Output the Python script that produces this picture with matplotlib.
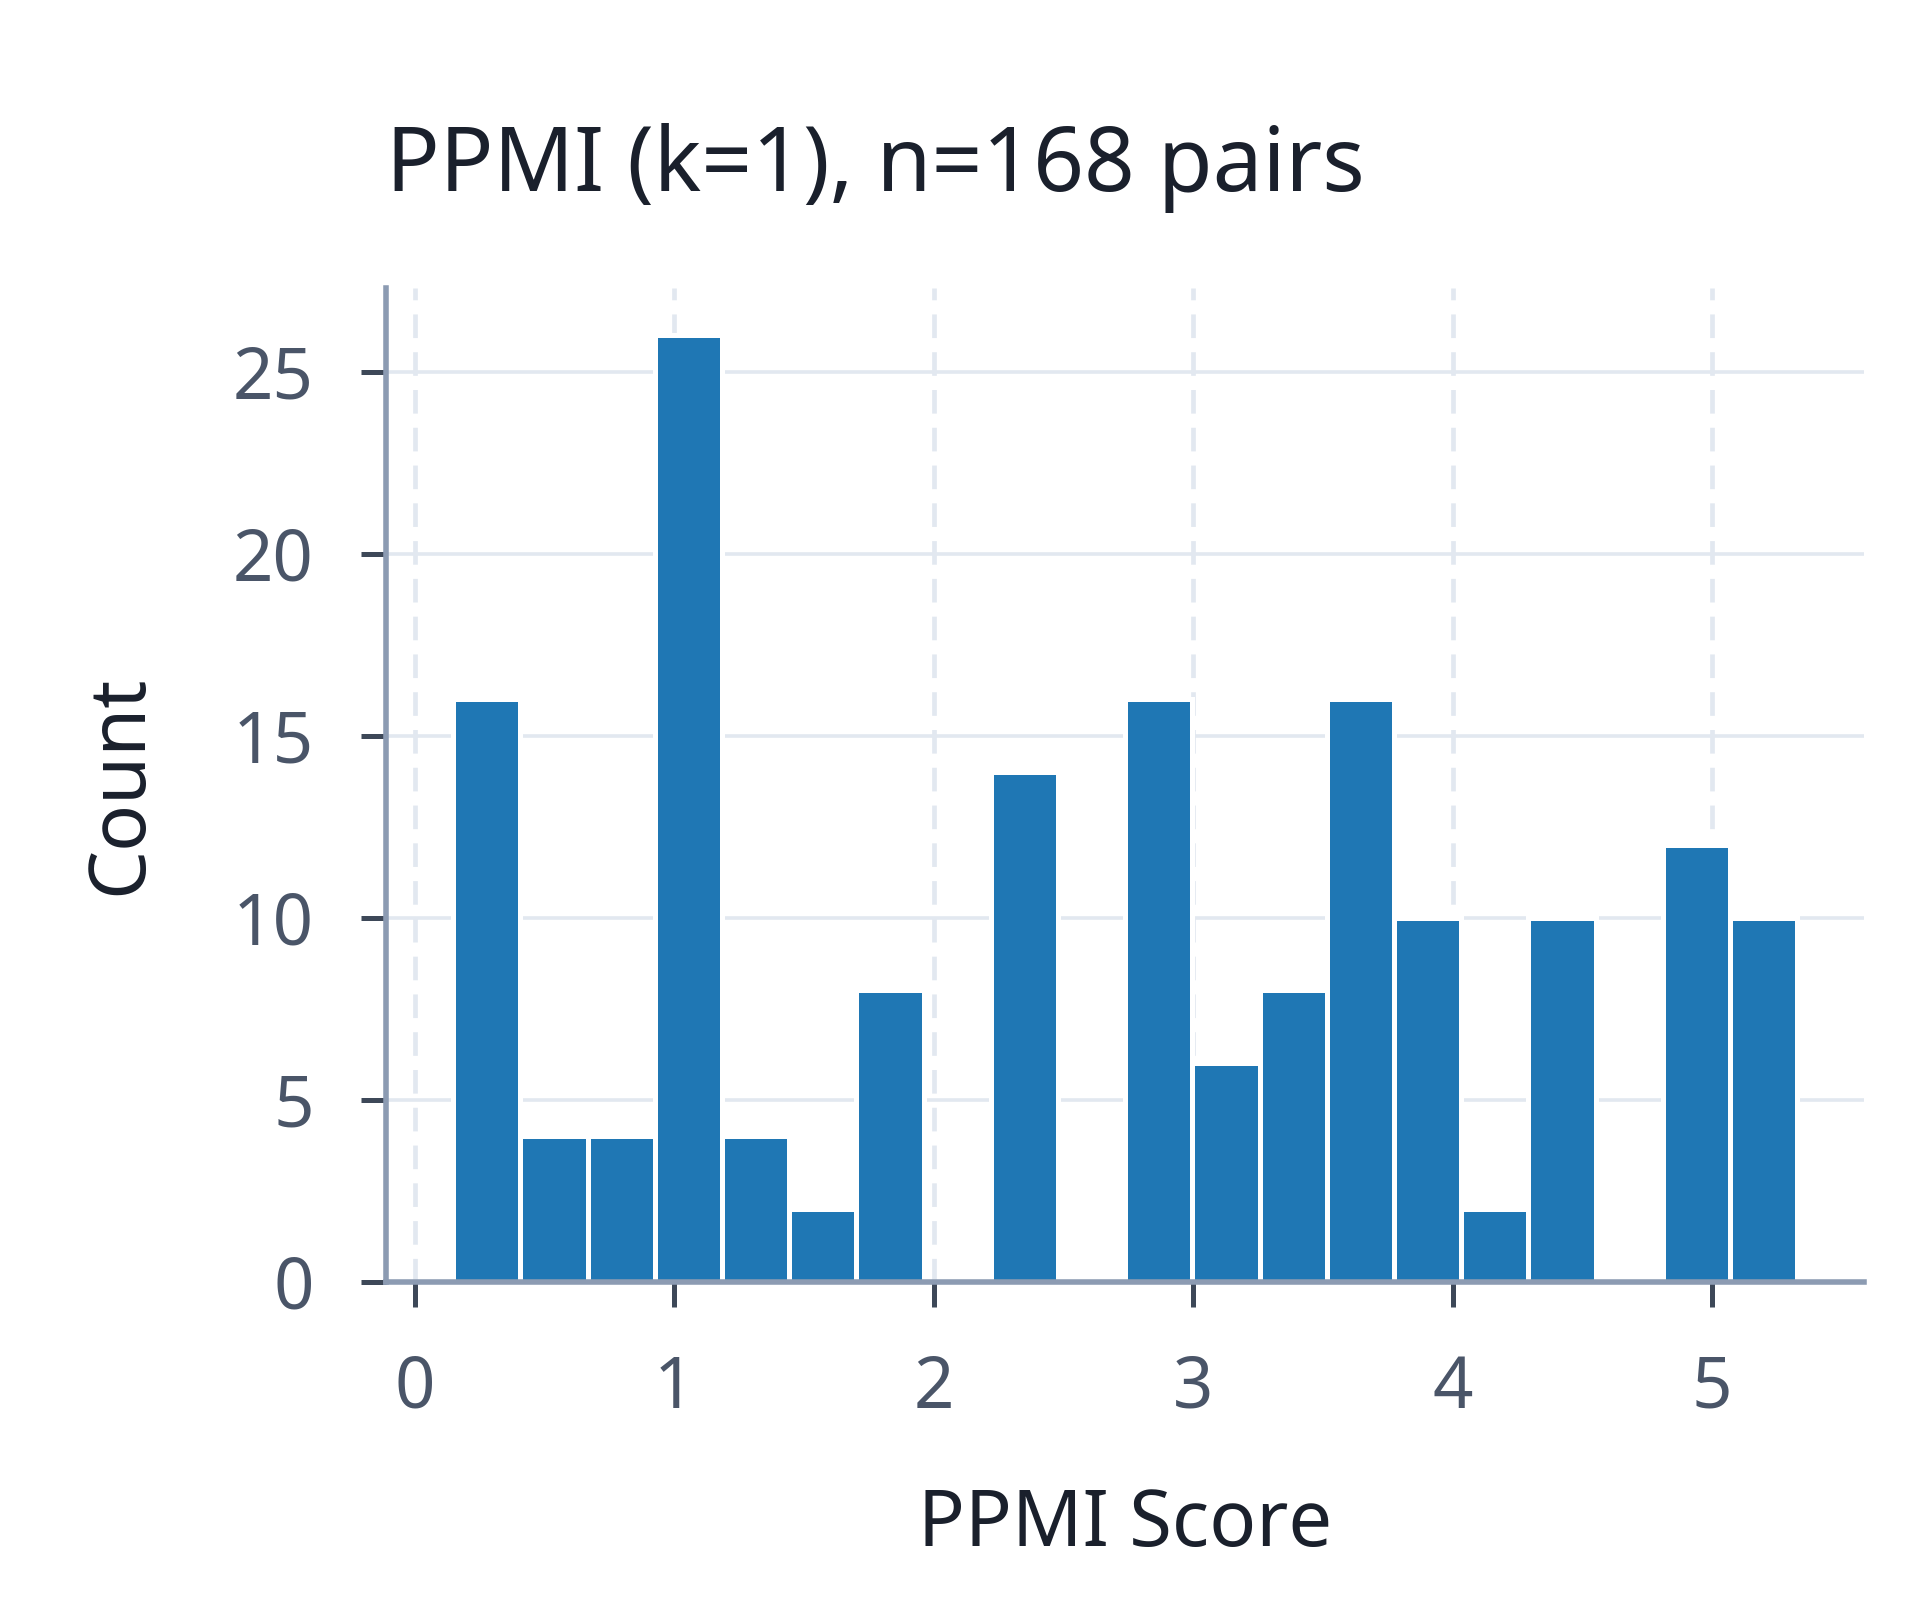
import numpy as np
import matplotlib
matplotlib.use("Agg")
import matplotlib.pyplot as plt

# histogram of PPMI scores (k=1), 20 equal-width bins
score_min = 0.147
score_max = 5.327
bin_counts = [16, 4, 4, 26, 4, 2, 8, 0, 14, 0, 16, 6, 8, 16, 10, 2, 10, 0, 12, 10]
x_ticks = [0, 1, 2, 3, 4, 5]
y_ticks = [0, 5, 10, 15, 20, 25]
title_text = "PPMI (k=1), n=168 pairs"
x_label = "PPMI Score"
y_label = "Count"

plt.rcParams['font.family'] = ['Noto Sans', 'DejaVu Sans']

edges = np.linspace(score_min, score_max, len(bin_counts) + 1)

fig = plt.figure(figsize=(9.6, 8), dpi=200)
ax = fig.add_axes([0.201, 0.199, 0.770, 0.621])

ax.hist(edges[:-1], bins=edges, weights=bin_counts, color='#1f77b4',
        edgecolor='white', linewidth=1.8, zorder=2)

ax.set_axisbelow(True)
ax.grid(axis='y', color='#e2e8f0', linewidth=1.3, linestyle='-', zorder=0)
ax.grid(axis='x', color='#e2e8f0', linewidth=1.7, linestyle=(0, (5, 3)), zorder=0)

ax.set_xticks(x_ticks)
ax.set_yticks(y_ticks)

for s in ['top', 'right']:
    ax.spines[s].set_visible(False)
for s in ['left', 'bottom']:
    ax.spines[s].set_color('#8c9bb2')
    ax.spines[s].set_linewidth(2.0)

ax.tick_params(axis='both', colors='#3d4858', length=9, width=1.8,
               labelsize=25.5, labelcolor='#4a5568', pad=17)

ax.set_title(title_text, loc='left', fontsize=32, color='#1a202c', pad=35)
ax.set_xlabel(x_label, fontsize=28, color='#1a202c', labelpad=22)
ax.set_ylabel(y_label, fontsize=28, color='#1a202c', labelpad=26)

fig.savefig("out.png", dpi=200, facecolor='white')
